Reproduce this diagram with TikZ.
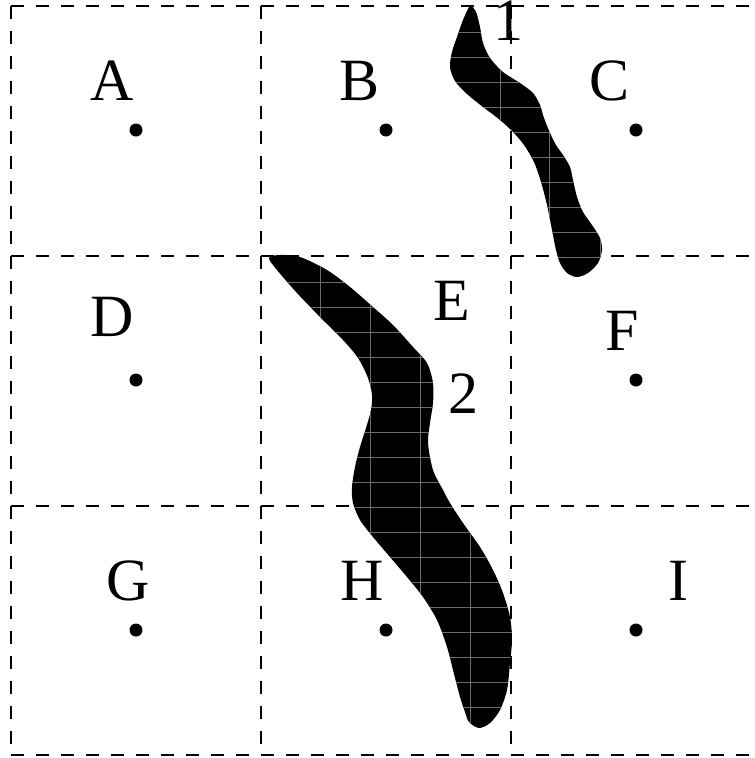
\documentclass[tikz,border=0pt]{standalone}
\usepackage{fontspec}
\setmainfont{Liberation Serif}
\newcommand\blobonepath{plot[smooth cycle,tension=0.5] coordinates {(470,6) (476,12) (480,27) (483,43) (490,58) (503,72) (520,83) (533,93) (540,105) (544,118) (550,133) (556,145) (563,155) (570,167) (573,180) (577,197) (583,212) (592,225) (600,238) (602,250) (598,263) (588,273) (577,277) (567,273) (560,263) (556,250) (552,230) (547,205) (541,182) (534,162) (524,145) (513,132) (500,120) (483,107) (467,94) (455,81) (450,67) (452,52) (457,37) (463,20)}}
\newcommand\blobtwopath{plot[smooth cycle,tension=0.5] coordinates {(269,258) (280,255) (300,257) (327,270) (350,287) (373,307) (393,325) (413,347) (427,363) (433,383) (433,403) (430,423) (428,443) (433,470) (443,490) (450,503) (463,523) (480,547) (493,570) (503,593) (510,617) (512,640) (510,663) (507,690) (500,710) (490,723) (479,728) (469,722) (465,712) (460,697) (453,670) (447,647) (437,620) (423,597) (407,577) (390,557) (373,537) (360,520) (353,503) (352,487) (355,467) (360,447) (366,428) (371,410) (372,395) (368,378) (358,358) (343,340) (320,317) (297,293) (277,270)}}
\begin{document}
\begin{tikzpicture}[x=1pt,y=-1pt,
  cellline/.style={line width=1.5pt,dash pattern=on 12.5pt off 12.5pt},
  lab/.style={anchor=base,inner sep=0pt,font=\fontsize{60}{62}\selectfont},
  dot/.style={circle,fill=black,inner sep=0pt,minimum size=13pt},
  seam/.style={draw=black!58,line width=0.7pt}]
\useasboundingbox (0,0) rectangle (755,758);
% grid
\coordinate (g00) at (11,6);   \coordinate (g30) at (761,6);
\coordinate (g01) at (11,256); \coordinate (g31) at (761,256);
\coordinate (g02) at (11,506); \coordinate (g32) at (761,506);
\coordinate (g03) at (11,755); \coordinate (g33) at (761,755);
\coordinate (g10) at (261,6);  \coordinate (g13) at (261,755);
\coordinate (g20) at (511,6);  \coordinate (g23) at (511,755);
\draw[cellline] (g00) -- (g30);
\draw[cellline] (g01) -- (g31);
\draw[cellline] (g02) -- (g32);
\draw[cellline] (g03) -- (g33);
\draw[cellline] (g00) -- (g03);
\draw[cellline] (g10) -- (g13);
\draw[cellline] (g20) -- (g23);
% labels
\node[lab] (lA) at (112,100) {A};
\node[lab] (lB) at (360,100) {B};
\node[lab] (lC) at (610,100) {C};
\node[lab] (lD) at (112,336) {D};
\node[lab] (lE) at (452,320) {E};
\node[lab] (lF) at (622,350) {F};
\node[lab] (lG) at (128,600) {G};
\node[lab] (lH) at (362,600) {H};
\node[lab] (lI) at (678,600) {I};
\node[lab] (l1) at (508,40) {1};
\node[lab] (l2) at (463,413) {2};
% dots
\node[dot] (dA) at (136,130) {};
\node[dot] (dB) at (386,130) {};
\node[dot] (dC) at (636,130) {};
\node[dot] (dD) at (136,380) {};
\node[dot] (dE) at (386,380) {};
\node[dot] (dF) at (636,380) {};
\node[dot] (dG) at (136,630) {};
\node[dot] (dH) at (386,630) {};
\node[dot] (dI) at (636,630) {};
% blobs
\fill[black] \blobonepath;
\fill[black] \blobtwopath;
\begin{scope}
\clip \blobonepath;
\foreach \yy in {32,57,...,282} {\path[seam] (440,\yy) -- (610,\yy);}
\path[seam] (500,70) -- (500,133);
\path[seam] (511,133) -- (511,290);
\foreach \xx in {549,600} {\path[seam] (\xx,130) -- (\xx,290);}
\end{scope}
\begin{scope}
\clip \blobtwopath;
\foreach \yy in {282,307,...,732} {\path[seam] (260,\yy) -- (520,\yy);}
\foreach \xx in {320,370,420,470} {\path[seam] (\xx,250) -- (\xx,740);}
\end{scope}
\end{tikzpicture}
\end{document}
